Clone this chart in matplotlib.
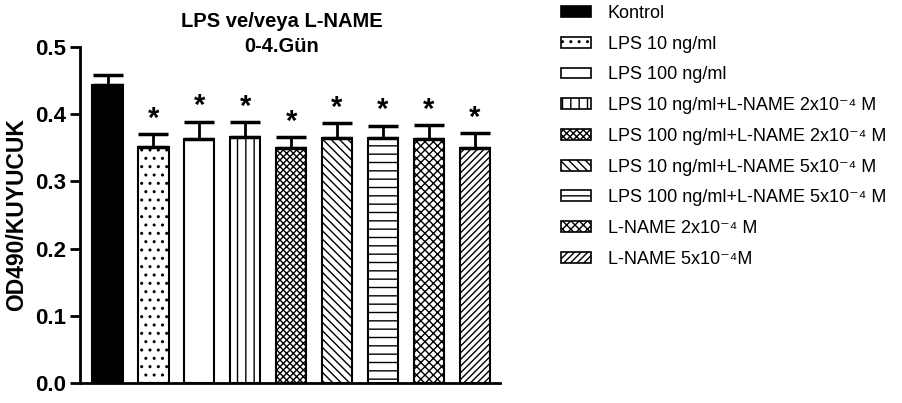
import numpy as np
import matplotlib.pyplot as plt
from matplotlib.patches import Patch

# veriler
gruplar = ['Kontrol', 'LPS 10 ng/ml', 'LPS 100 ng/ml',
           'LPS 10 ng/ml+L-NAME 2x10⁻⁴ M',
           'LPS 100 ng/ml+L-NAME 2x10⁻⁴ M',
           'LPS 10 ng/ml+L-NAME 5x10⁻⁴ M',
           'LPS 100 ng/ml+L-NAME 5x10⁻⁴ M',
           'L-NAME 2x10⁻⁴ M',
           'L-NAME 5x10⁻⁴M']
ortalama = [0.443, 0.351, 0.363, 0.366, 0.350, 0.364, 0.364, 0.363, 0.350]
hata = [0.015, 0.019, 0.026, 0.022, 0.016, 0.023, 0.019, 0.021, 0.022]
yildiz = ['', '*', '*', '*', '*', '*', '*', '*', '*']
desen = [None, '..', None, '||', 'xxxxx', '\\\\\\\\', '--', 'xxxx', '/////']
renk = ['black'] + ['white'] * 8

plt.rcParams['font.family'] = ['Liberation Sans', 'DejaVu Sans']
plt.rcParams['hatch.linewidth'] = 1.0

fig = plt.figure(figsize=(9.03, 4.03), dpi=100)
ax = fig.add_axes([0.0886, 0.0496, 0.465, 0.834])

x = np.arange(len(gruplar))
bars = ax.bar(x, ortalama, width=0.66, color=renk, edgecolor='black',
              linewidth=1.5)
for b, h in zip(bars, desen):
    if h:
        b.set_hatch(h)
ax.errorbar(x, ortalama, yerr=[np.zeros(len(hata)), hata], fmt='none',
            ecolor='black', elinewidth=2, capsize=11, capthick=2.5)
for xi, m, e, s in zip(x, ortalama, hata, yildiz):
    ax.text(xi, m + e + 0.002, s, ha='center', va='bottom',
            fontsize=21, fontweight='bold')

ax.set_xlim(-0.6, len(gruplar) - 0.45)
ax.set_ylim(0, 0.5)
ax.set_yticks([0.0, 0.1, 0.2, 0.3, 0.4, 0.5])
ax.set_yticklabels(['0.0', '0.1', '0.2', '0.3', '0.4', '0.5'],
                   fontsize=16, fontweight='bold')
ax.set_xticks([])
ax.spines['top'].set_visible(False)
ax.spines['right'].set_visible(False)
ax.spines['left'].set_linewidth(2)
ax.spines['bottom'].set_linewidth(2)
ax.tick_params(axis='y', width=2, length=7, pad=3)
ax.set_ylabel('OD490/KUYUCUK', fontsize=16.5, fontweight='bold', labelpad=5)
ax.set_title('LPS ve/veya L-NAME\n0-4.Gün', fontsize=14.5,
             fontweight='bold', y=0.985, pad=0, linespacing=1.4, x=0.48)

handles = [Patch(facecolor=c, edgecolor='black', hatch=h, linewidth=1.2)
           for c, h in zip(renk, desen)]
fig.legend(handles, gruplar, loc='upper left', bbox_to_anchor=(0.603, 1.028),
           frameon=False, fontsize=13, handlelength=1.65, handleheight=0.55,
           labelspacing=0.76, handletextpad=0.95)

plt.savefig('out.png', dpi=100)
